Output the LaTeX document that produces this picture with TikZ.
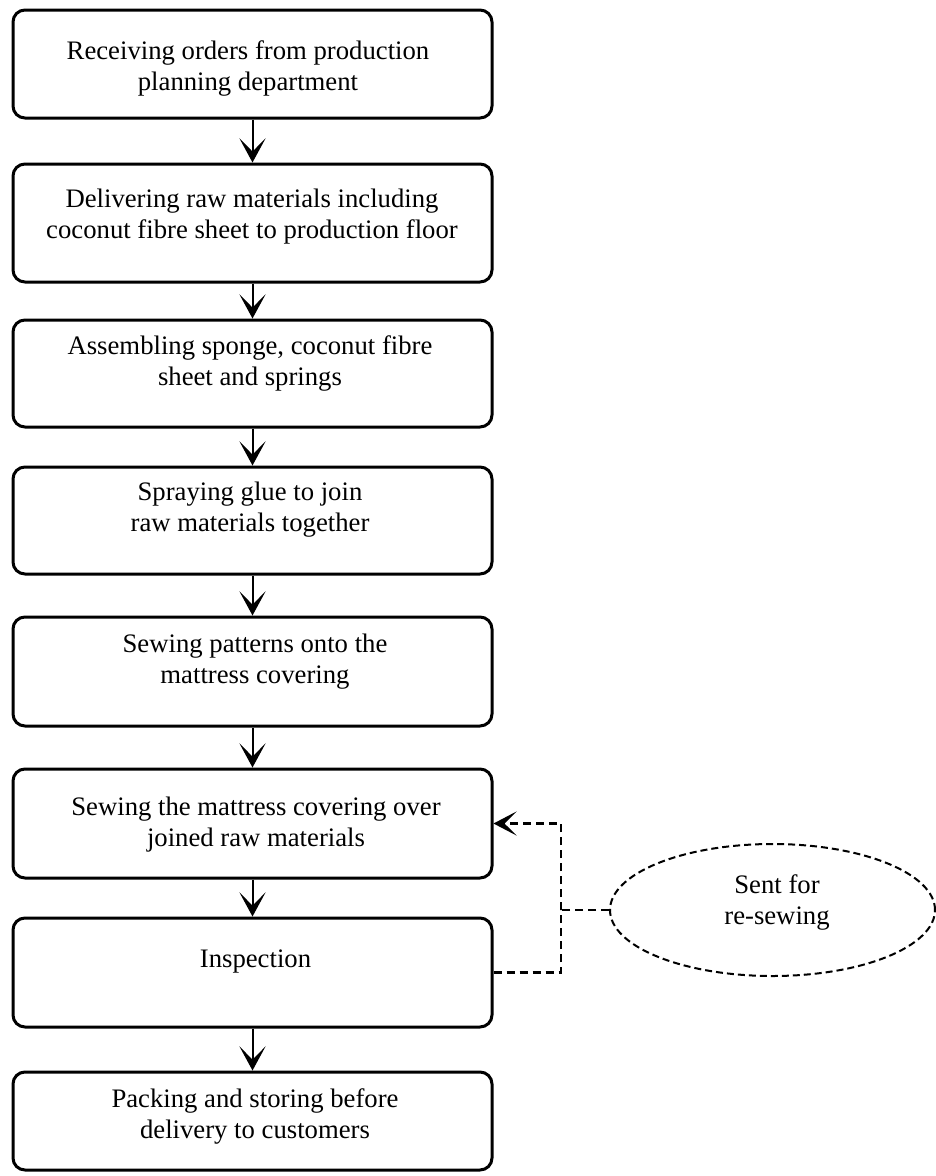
\documentclass[tikz,border=0pt]{standalone}
\usepackage{fontspec}
\setmainfont{Liberation Serif}
\usetikzlibrary{shapes.geometric,arrows.meta}
\begin{document}
\begin{tikzpicture}[x=1pt,y=-1pt,
  stepbox/.style={draw, line width=3pt, rounded corners=12pt,
    minimum width=479pt, inner sep=0pt},
  steptext/.style={font=\fontsize{26.7}{31}\selectfont, align=center, inner sep=0pt},
  flowarrow/.style={line width=2pt, -{Stealth[length=24pt,width=26pt,inset=13pt]}},
  retline/.style={line width=2.2pt, dash pattern=on 8pt off 5pt},
  retarrow/.style={retline, -{Stealth[length=23pt,width=24pt,inset=12pt]}},
  notebubble/.style={draw, ellipse, line width=2pt, dash pattern=on 7pt off 4pt,
    minimum width=325pt, minimum height=132pt, inner sep=0pt},
]
\useasboundingbox (0,0) rectangle (936,1176);

% process steps
\node[stepbox, minimum height=108pt] (b1) at (252.5,64)    {};
\node[stepbox, minimum height=118pt] (b2) at (252.5,223)   {};
\node[stepbox, minimum height=107pt] (b3) at (252.5,373.5) {};
\node[stepbox, minimum height=107pt] (b4) at (252.5,520.5) {};
\node[stepbox, minimum height=109pt] (b5) at (252.5,671.5) {};
\node[stepbox, minimum height=109pt] (b6) at (252.5,823.5) {};
\node[stepbox, minimum height=109pt] (b7) at (252.5,972.5) {};
\node[stepbox, minimum height=98pt]  (b8) at (252.5,1121)  {};

\node[steptext] (t1) at (248,68)    {Receiving orders from production\\planning department};
\node[steptext] (t2) at (252,216.5) {Delivering raw materials including\\coconut fibre sheet to production floor};
\node[steptext] (t3) at (250,363.5) {Assembling sponge, coconut fibre\\sheet and springs};
\node[steptext] (t4) at (250,509.5) {Spraying glue to join\\raw materials together};
\node[steptext] (t5) at (255,661.5) {Sewing patterns onto the\\mattress covering};
\node[steptext] (t6) at (256,824.5) {Sewing the mattress covering over\\joined raw materials};
\node[steptext, anchor=base] (t7) at (255.5,967) {Inspection};
\node[steptext] (t8) at (255,1116.5) {Packing and storing before\\delivery to customers};

% re-sewing note
\node[notebubble] (e) at (772.5,910) {};
\node[steptext] (te) at (777,902) {Sent for\\re-sewing};

% main flow
\foreach \a/\b in {b1/b2,b2/b3,b3/b4,b4/b5,b5/b6,b6/b7,b7/b8}
  \draw[flowarrow] (\a.south) -- (\b.north);

% return loop from inspection
\path (e.west) ++(-48,0) coordinate (jr);
\draw[retarrow] (b7.east) -| (jr) |- (b6.east);
\draw[retline] (e.west) -- (jr);
\end{tikzpicture}
\end{document}
